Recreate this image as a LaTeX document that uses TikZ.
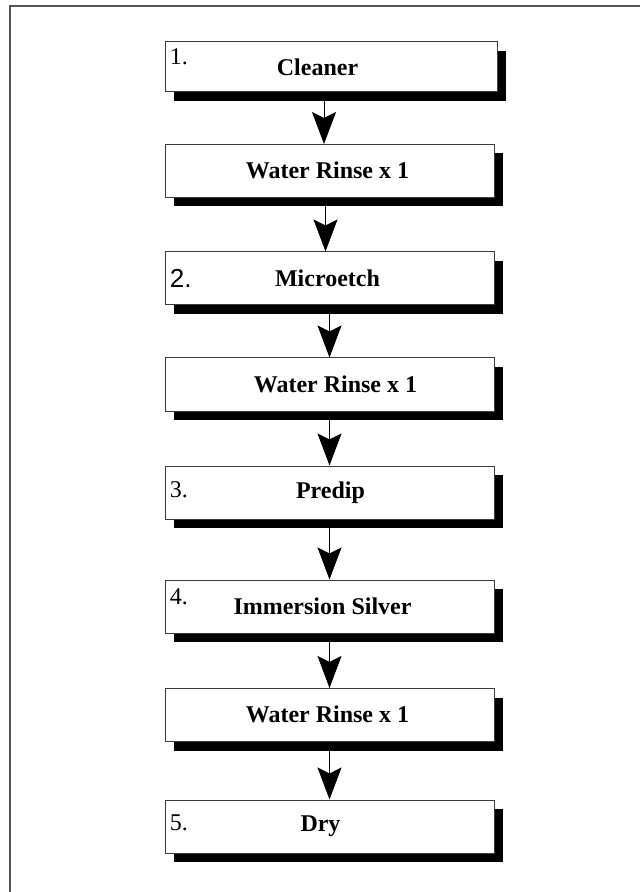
\documentclass[tikz,border=0pt]{standalone}
\usepackage{fontspec}
\setmainfont{Liberation Serif}
\newfontfamily\arialfont{Liberation Sans}
\usepackage{xcolor}
\definecolor{framegray}{RGB}{85,85,85}
\definecolor{edgegray}{RGB}{60,60,60}
\usetikzlibrary{arrows.meta, positioning, calc, shadows}

\begin{document}
\begin{tikzpicture}[x=0.5pt, y=-0.5pt,
    stepbox/.style={draw=edgegray, line width=0.5pt, fill=white,
      minimum width=164.5pt, minimum height=26.5pt, inner sep=0pt,
      drop shadow={shadow xshift=4.5pt, shadow yshift=-4.5pt, fill=black, opacity=1}},
    steptext/.style={inner sep=0pt, font=\fontsize{12}{14}\selectfont\bfseries},
    numlabel/.style={anchor=west, inner sep=0pt, font=\fontsize{12}{14}\selectfont},
    flow/.style={-{Stealth[length=16pt, width=12pt, inset=3pt]}, line width=0.5pt}]
  \useasboundingbox (0,0) rectangle (639,892);

  % page frame
  \draw[framegray, line width=1pt] (10,900) -- (10,6.5) -- (650,6.5);

  % process steps
  \node[stepbox, minimum width=166pt, minimum height=25pt] (cleaner) at (331,67) {};
  \node[stepbox] (rinse1) at (329.5,171) {};
  \node[stepbox] (microetch) at (329.5,278.5) {};
  \node[stepbox] (rinse2) at (329.5,384.5) {};
  \node[stepbox] (predip) at (329.5,492.5) {};
  \node[stepbox] (silver) at (329.5,606.5) {};
  \node[stepbox] (rinse3) at (329.5,715) {};
  \node[stepbox] (dry) at (329.5,826.5) {};

  % step names
  \node[steptext] (cleanertext) at ($(cleaner)+(-13.5,0)$) {Cleaner};
  \node[steptext] (rinse1text) at ($(rinse1)+(-2,-1)$) {Water Rinse x 1};
  \node[steptext] (microetchtext) at ($(microetch)+(-2,0)$) {Microetch};
  \node[steptext] (rinse2text) at ($(rinse2)+(6,0)$) {Water Rinse x 1};
  \node[steptext] (prediptext) at ($(predip)+(1,0)$) {Predip};
  \node[steptext] (silvertext) at ($(silver)+(-7,0)$) {Immersion Silver};
  \node[steptext] (rinse3text) at ($(rinse3)+(-2,-1)$) {Water Rinse x 1};
  \node[steptext] (drytext) at ($(dry)+(-9,0)$) {Dry};

  % step numbers
  \node[numlabel] (num1) at ($(cleaner.north west)+(5,15)$) {1.};
  \node[numlabel, font=\fontsize{13}{15}\arialfont] (num2) at ($(microetch.north west)+(5,27)$) {2.};
  \node[numlabel] (num3) at ($(predip.north west)+(5,24)$) {3.};
  \node[numlabel] (num4) at ($(silver.north west)+(5,17)$) {4.};
  \node[numlabel] (num5) at ($(dry.north west)+(5,23)$) {5.};

  % flow arrows
  \draw[flow] ([xshift=-3.5pt]cleaner.south) -- ([xshift=-3.5pt]cleaner.south |- rinse1.north);
  \draw[flow] ([xshift=-2pt]rinse1.south) -- ([xshift=-2pt]rinse1.south |- microetch.north);
  \draw[flow] (microetch.south) -- (microetch.south |- rinse2.north);
  \draw[flow] (rinse2.south) -- (rinse2.south |- predip.north);
  \draw[flow] (predip.south) -- (predip.south |- silver.north);
  \draw[flow] (silver.south) -- (silver.south |- rinse3.north);
  \draw[flow] (rinse3.south) -- (rinse3.south |- dry.north);
\end{tikzpicture}
\end{document}
